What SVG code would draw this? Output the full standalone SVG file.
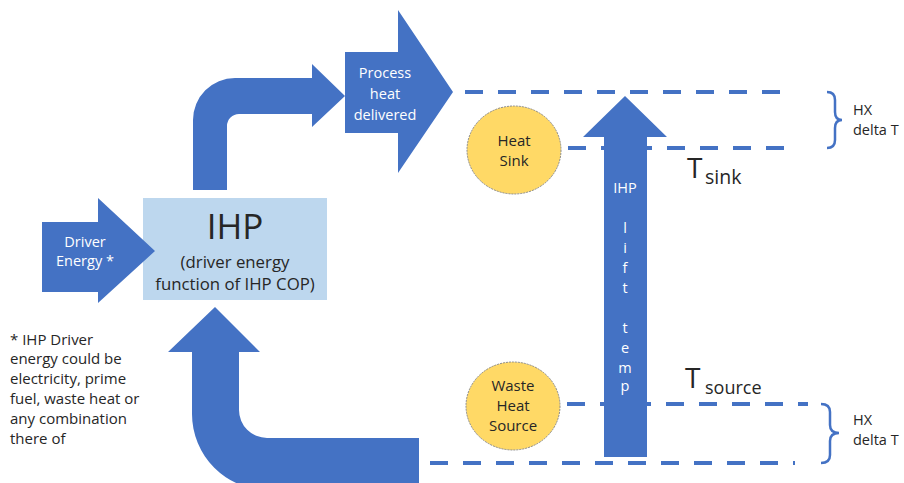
<svg xmlns="http://www.w3.org/2000/svg" width="904" height="483" viewBox="0 0 904 483">
<style>
.arrow{fill:#4472C4;}
.wt{fill:#ffffff;font-family:"Open Sans","Noto Sans",sans-serif;font-size:14.5px;text-anchor:middle;}
.dk{fill:#262626;font-family:"Open Sans","Noto Sans",sans-serif;}
.dash{stroke:#4472C4;stroke-width:4;stroke-dasharray:18 15;fill:none;}
.brk{stroke:#4472C4;stroke-width:2.5;fill:none;}
.circ{fill:#FFD966;stroke:#8a8a8a;stroke-width:1;stroke-dasharray:2 1;}
</style>
<rect width="904" height="483" fill="#ffffff"/>
<g id="connectors">
<path class="dash" d="M465,92 L790,92"/>
<path class="dash" d="M568,148 L795,148"/>
<path class="dash" d="M567,404 L808,404"/>
<path class="dash" d="M430,463 L795,463"/>
<path class="brk" d="M827,92 Q835,92 835,100 L835,112 Q835,120 842,120 Q835,120 835,128 L835,140 Q835,148 827,148"/>
<path class="brk" d="M821,404 Q830,404 830,412 L830,425 Q830,433 839,433 Q830,433 830,441 L830,455 Q830,463 821,463"/>
<path class="arrow" d="M193,190 L193,120 A42,42 0 0 1 235,78 L312,78 L312,64 L345,96 L312,127 L312,114 L239,114 A12,12 0 0 0 227,126 L227,190 Z"/>
<path class="arrow" d="M215,307 L260,352 L239,352 L239,410 A28,28 0 0 0 267,438 L419,438 L419,490 L268,490 A76,76 0 0 1 192,414 L192,352 L168,352 Z"/>
</g>
<g id="ihp">
<rect x="143" y="198" width="184" height="102" fill="#BDD7EE"/>
<text class="dk" x="235" y="239" font-size="35" text-anchor="middle">IHP</text>
<text class="dk" x="235" y="268" font-size="16.8" text-anchor="middle">(driver energy</text>
<text class="dk" x="235" y="290" font-size="16.8" text-anchor="middle">function of IHP COP)</text>
</g>
<g id="driver-energy">
<path class="arrow" d="M42,222 L98,222 L98,198 L155,251 L98,303 L98,292 L42,292 Z"/>
<text class="wt" x="85" y="247">Driver</text>
<text class="wt" x="85" y="266">Energy *</text>
</g>
<g id="process-heat">
<path class="arrow" d="M345,52 L398,52 L398,10 L453,92 L398,173 L398,133 L345,133 Z"/>
<text class="wt" x="385" y="78">Process</text>
<text class="wt" x="385" y="99">heat</text>
<text class="wt" x="385" y="120">delivered</text>
</g>
<g id="heat-sink">
<ellipse class="circ" cx="514" cy="150" rx="47" ry="44"/>
<text class="dk" x="514" y="146" font-size="15" text-anchor="middle">Heat</text>
<text class="dk" x="514" y="166" font-size="15" text-anchor="middle">Sink</text>
</g>
<g id="waste-heat-source">
<ellipse class="circ" cx="513" cy="406" rx="47" ry="44"/>
<text class="dk" x="513" y="391" font-size="15" text-anchor="middle">Waste</text>
<text class="dk" x="513" y="411" font-size="15" text-anchor="middle">Heat</text>
<text class="dk" x="513" y="431" font-size="15" text-anchor="middle">Source</text>
</g>
<g id="ihp-lift">
<path class="arrow" d="M625,96 L667,137 L647,137 L647,457 L604,457 L604,137 L583,137 Z"/>
<text class="wt" x="625" y="193" font-size="13.5">IHP</text>
<text class="wt" x="625" y="233" font-size="13.5">l</text>
<text class="wt" x="625" y="253" font-size="13.5">i</text>
<text class="wt" x="625" y="273" font-size="13.5">f</text>
<text class="wt" x="625" y="293" font-size="13.5">t</text>
<text class="wt" x="625" y="333" font-size="13.5">t</text>
<text class="wt" x="625" y="353" font-size="13.5">e</text>
<text class="wt" x="625" y="373" font-size="13.5">m</text>
<text class="wt" x="625" y="391" font-size="13.5">p</text>
</g>
<g id="t-sink">
<text class="dk" x="687" y="178" font-size="28">T</text>
<text class="dk" x="705" y="184" font-size="19.5">sink</text>
</g>
<g id="t-source">
<text class="dk" x="685" y="388" font-size="28">T</text>
<text class="dk" x="705" y="394" font-size="18">source</text>
</g>
<g id="hx-top">
<text class="dk" x="853" y="115" font-size="14.5">HX</text>
<text class="dk" x="853" y="135" font-size="14.5">delta T</text>
</g>
<g id="hx-bottom">
<text class="dk" x="853" y="425" font-size="14.5">HX</text>
<text class="dk" x="853" y="445" font-size="14.5">delta T</text>
</g>
<g id="footnote">
<text class="dk" x="10" y="345" font-size="15">* IHP Driver</text>
<text class="dk" x="10" y="364" font-size="15">energy could be</text>
<text class="dk" x="10" y="384" font-size="15">electricity, prime</text>
<text class="dk" x="10" y="404" font-size="15">fuel, waste heat or</text>
<text class="dk" x="10" y="424" font-size="15">any combination</text>
<text class="dk" x="10" y="444" font-size="15">there of</text>
</g>
</svg>
